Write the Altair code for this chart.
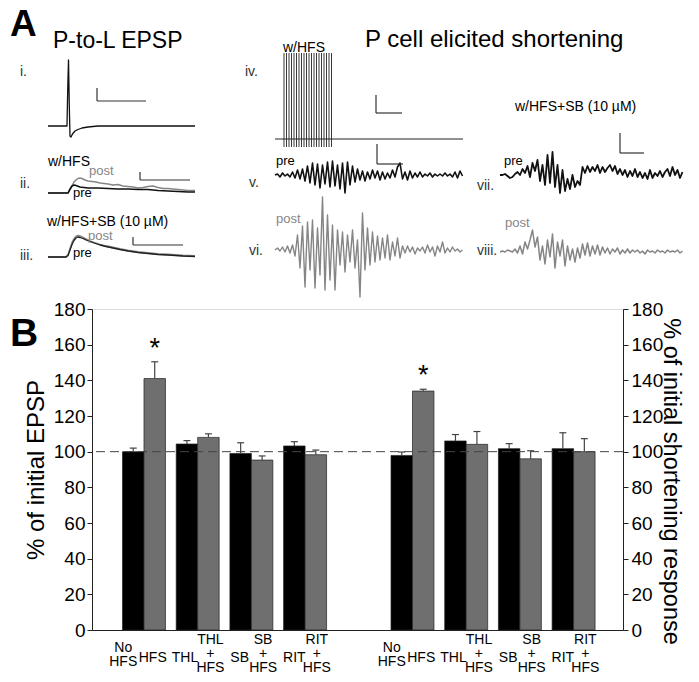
import altair as alt
import pandas as pd

# ---------------- Panel B values ----------------
conditions = ["No\nHFS", "HFS", "THL", "THL\n+\nHFS", "SB", "SB\n+\nHFS", "RIT", "RIT\n+\nHFS"]
epsp_mean = [100.0, 141.0, 104.3, 108.0, 99.0, 95.3, 103.2, 98.3]
epsp_sem = [2.0, 9.4, 1.9, 2.0, 6.0, 2.3, 2.4, 2.6]
short_mean = [97.9, 134.0, 106.0, 104.1, 101.7, 96.0, 101.7, 100.0]
short_sem = [1.9, 1.0, 3.6, 7.2, 2.8, 4.5, 8.9, 7.3]
star_level = [153, 138]
y_ticks = [0, 20, 40, 60, 80, 100, 120, 140, 160, 180]
reference_pct = [100]

# ---------------- Panel A traces (px above baseline) ----------------
tr_i_t = [0, 19, 19.8, 20.5, 21.3, 22, 23, 24.5, 27, 30, 34, 40, 50, 147]
tr_i_v = [0, 0, 40, 66, 20, -10, -11, -8, -5, -3.5, -2, -1, 0, 0]

tr_ii_post_t = [0, 20, 22, 24, 26, 28, 30, 32, 34, 37, 40, 44, 48, 52, 56, 60, 65, 70, 75, 80,
                85, 90, 95, 100, 105, 110, 115, 120, 125, 130, 135, 140, 147]
tr_ii_post_v = [0, 0, 3, 7, 11, 13, 14.5, 15, 14.5, 13, 12, 11.5, 11, 10, 9.5, 9, 8, 8.5, 7, 6.5,
                6, 5, 5.5, 6.5, 7, 5.5, 4.5, 4.5, 4, 3.5, 3, 2.5, 2.5]
tr_ii_pre_t = [0, 20, 22, 24, 26, 28, 32, 36, 40, 50, 60, 70, 80, 90, 100, 110, 120, 130, 140, 147]
tr_ii_pre_v = [0, 0, 4, 7, 8, 7.5, 6, 5.5, 5, 5, 4.5, 4, 4, 3.5, 3.5, 2.5, 2, 1.5, 1, 1]

tr_iii_t = [0, 18, 20, 22, 24, 26, 28, 30, 32, 35, 38, 42, 46, 52, 58, 65, 72, 80, 90, 100, 110, 120, 135, 147]
tr_iii_post_v = [0, 0, 2, 8, 14, 18, 20.5, 21.5, 21, 19.5, 18, 16, 14.5, 12.5, 11, 9.5, 8, 6.5, 5, 4, 3, 2.5, 1.5, 1]
tr_iii_pre_v = [0, 0, 1.5, 7, 12.5, 16.5, 19, 20, 19.5, 18.5, 17, 15.5, 14, 12, 10.5, 9, 7.5, 6, 4.5, 3.5, 2.5, 2, 1, 0.5]

tr_iv_base_t = [0, 188]
tr_iv_base_v = [0, 0]
spike_t = [9, 11.5, 14, 16.5, 19, 21.5, 24, 26.5, 29, 31.5, 34, 36.5, 39, 41.5, 44, 46.5, 49, 51.5, 54, 56.5]
spike_top = [86] * 20
spike_bottom = [-8] * 20

tr_v = [0, 1, -2, 2, -1, 1,
        -2, 3, -3, 5, -4, 6,
        -6, 9, -8, 12, -10, 11, -13, 10,
        -9, 13, -12, 14, -11, 10, -14, 12, -18, 13, -10, 9,
        -7, 6, -5, 4, -6, 3, -4, 5, -3, 4, -5, 3, -4, 2,
        -3, 5, -2, 8, 12, -4,
        3, -5, 4, -3, 2, -2, 3, -2, 1, -1, 2, -2, 1, -1, 1, -1, 2, -1, 1, -2, 3, -3, 4, -1]
tr_vi = [0, 2, -1, 3, -2, 4, -3, 5,
         -6, 15, -18, 24, -37, 28, -20, 30, -38, 22, -25, 53, -40, 35, -30, 25, -40, 20,
         -15, 18, -22, 15, -12, 20, -18, 10, -47, 37, -20, 22, -15, 18, -12, 14, -10, 12,
         -8, 15, -10, 8, -6, 12, -8, 4,
         -3, 4, -2, 3, -4, 2, -1, 3, -3, 5, -2, 3, -6, 4, -2, 8, -3, 2, -2, 3, -1, 1, -2, 0]
tr_vii = [0, 0, 1, -1, -3, -2, 1, 3,
          0, 6, 2, 9, -2, 12, 4, 15,
          -6, 10, -10, 20, -8, 23, -12, 10,
          -18, 5, -16, -4, -14, 0, -12, -6,
          -10, 8, 2, 9, 3, 8, 4, 10,
          2, 8, 3, 7, 10, 4, 9, 1,
          6, 0, 5, -2, 4, -1, 6, -2,
          3, -3, 2, -4, 5, -3, 2, -1,
          4, -2, 3, 6, -1, 8, 0, 5, -3, 3]
tr_viii = [0, 1, 0, 2, 1, 0, 3, -1,
           6, -2, 10, 3, 12, 22, 5, 15,
           -8, 6, -12, 12, -5, 18, -16, 10,
           -4, 12, -14, 6, -8, 3, -10, 4,
           -6, 8, -3, 9, -4, 6, -2, 7,
           -3, 5, -1, 4, -2, 3, 0, 4,
           -2, 2, -1, 3, -1, 2, 0, 2,
           -1, 1, -2, 2, 0, 1, -1, 2,
           0, 1, -1, 2, 0, 1, 0, 2, -1, 1]
noisy_step = 2.5

# ---------------- Layout (page pixels) ----------------
PLOT_X0, PLOT_Y0 = 92, 309
W, H = 531, 321
VIEW_W, VIEW_H = 683, 666
PAD = {"left": PLOT_X0 - 8, "top": PLOT_Y0 - 8,
       "right": VIEW_W - (PLOT_X0 - 8) - W, "bottom": VIEW_H - (PLOT_Y0 - 8) - H}
GROUP_START = [0, 5]
BAR_W = 0.4
CAP = 0.065
X_DOMAIN = [-0.968, 8.92]
PX_PER_UNIT = W / (X_DOMAIN[1] - X_DOMAIN[0])
label_dx_px = [-10, -2, -2, 2, -1, 1, 0, 1]
label_first_line_page_y = {1: 658, 2: 648, 3: 640}

GRAY = "#6f6f6f"
TRACE_GRAY = "#858585"

trace_layout = [
    # name, t, v, x0, baseline, color, width
    ("i", tr_i_t, tr_i_v, 48, 126, "#111", 1.3),
    ("ii_post", tr_ii_post_t, tr_ii_post_v, 48, 193, TRACE_GRAY, 1.5),
    ("ii_pre", tr_ii_pre_t, tr_ii_pre_v, 48, 193, "#111", 1.6),
    ("iii_post", tr_iii_t, tr_iii_post_v, 48, 257, TRACE_GRAY, 1.8),
    ("iii_pre", tr_iii_t, tr_iii_pre_v, 48, 257, "#222", 1.3),
    ("iv_base", tr_iv_base_t, tr_iv_base_v, 275, 139, "#222", 1.0),
    ("v", None, tr_v, 275, 175, "#111", 1.6),
    ("vi", None, tr_vi, 275, 250, TRACE_GRAY, 1.4),
    ("vii", None, tr_vii, 500, 175, "#111", 1.8),
    ("viii", None, tr_viii, 500, 252, TRACE_GRAY, 1.5),
]
spike_layout = (275, 139)

scale_bars = [  # corner (x, y), vertical length, horizontal length
    (97, 101, 13, 49), (140, 180, 8, 50), (133, 245, 8, 50),
    (376, 113, 18, 26), (377, 164, 20, 26), (620, 153, 20, 24),
]

texts = [
    ("P-to-L EPSP", 53, 48, 23, "black"),
    ("P cell elicited shortening", 365, 47, 24, "black"),
    ("w/HFS", 283, 51.5, 14, "black"),
    ("w/HFS", 48, 166, 14, "black"),
    ("w/HFS+SB (10 µM)", 47, 226, 14, "black"),
    ("w/HFS+SB (10 µM)", 515, 111, 14, "black"),
    ("i.", 20, 76, 14, "#333"),
    ("ii.", 20, 188, 14, "#333"),
    ("iii.", 20, 260, 14, "#333"),
    ("iv.", 245, 76, 14, "#333"),
    ("v.", 249, 187, 14, "#333"),
    ("vi.", 249, 255, 14, "#333"),
    ("vii.", 477, 190, 14, "#333"),
    ("viii.", 477, 255, 14, "#333"),
    ("post", 89, 175, 13, TRACE_GRAY),
    ("pre", 73, 196.5, 13, "black"),
    ("post", 88, 239.5, 13, TRACE_GRAY),
    ("pre", 73, 257, 13, "black"),
    ("pre", 276, 165, 13, "black"),
    ("post", 276, 223, 13, TRACE_GRAY),
    ("pre", 504, 165, 13, "black"),
    ("post", 505, 227, 13, TRACE_GRAY),
]
panel_letters = [("A", 10, 36, 37), ("B", 10, 346, 39)]

# ---------------- Build panel B ----------------
rows = []
for means, sems, g0 in [(epsp_mean, epsp_sem, GROUP_START[0]), (short_mean, short_sem, GROUP_START[1])]:
    for i, lab in enumerate(conditions):
        g = g0 + i // 2
        side = i % 2
        xl = g - BAR_W + side * BAR_W
        xc = xl + BAR_W / 2
        nlines = lab.count("\n") + 1
        rows.append(dict(x=xl, x2=xl + BAR_W, xc=xc, cl=xc - CAP, cr=xc + CAP,
                         lx=xc + label_dx_px[i] / PX_PER_UNIT,
                         ly=label_first_line_page_y[nlines] - PLOT_Y0,
                         mean=means[i], top=means[i] + sems[i], zero=0, label=lab,
                         fill="#000000" if side == 0 else GRAY))
bars_df = pd.DataFrame(rows)
stars_df = pd.DataFrame({"xc": [bars_df.xc[1], bars_df.xc[9]], "v": star_level})
ref_df = pd.DataFrame({"v": reference_pct})

xs = alt.Scale(domain=X_DOMAIN, nice=False, zero=False)
ys = alt.Scale(domain=[0, 180], nice=False)
x_axis = alt.Axis(labels=False, ticks=False, title=None, grid=False, domainColor="#222", domainWidth=1)
left_axis = alt.Axis(values=y_ticks, title="% of initial EPSP", grid=False, tickSize=5,
                     labelPadding=2, titlePadding=5, labelFontSize=19, titleFontSize=24,
                     titleFontWeight="normal", domainColor="#222", tickColor="#222",
                     labelColor="black", titleColor="black")
right_axis = alt.Axis(values=y_ticks, orient="right", title="% of initial shortening response",
                      grid=False, tickSize=5, labelPadding=3, titlePadding=-4, labelFontSize=19,
                      titleFontSize=23.5, titleFontWeight="normal", titleAngle=90, titleY=172,
                      domainColor="#222", tickColor="#222", labelColor="black", titleColor="black")

base_b = alt.Chart(bars_df)
bars = base_b.mark_bar(stroke="#222", strokeWidth=0.7).encode(
    x=alt.X("x:Q", scale=xs, axis=x_axis), x2="x2:Q",
    y=alt.Y("mean:Q", scale=ys, axis=left_axis), y2="zero:Q",
    color=alt.Color("fill:N", scale=None))
err = base_b.mark_rule(color="#444", strokeWidth=1.2).encode(
    x=alt.X("xc:Q", scale=xs, axis=x_axis), y=alt.Y("mean:Q", scale=ys, axis=left_axis), y2="top:Q")
caps = base_b.mark_rule(color="#444", strokeWidth=1.2).encode(
    x=alt.X("cl:Q", scale=xs, axis=x_axis), x2="cr:Q", y=alt.Y("top:Q", scale=ys, axis=left_axis))
xlabels = base_b.mark_text(lineBreak="\n", fontSize=14, lineHeight=14, baseline="middle",
                           color="black").encode(
    x=alt.X("lx:Q", scale=xs, axis=x_axis), y=alt.Y("ly:Q", scale=None), text="label:N")
stars = alt.Chart(stars_df).mark_text(text="*", fontSize=27, baseline="alphabetic", color="black").encode(
    x=alt.X("xc:Q", scale=xs, axis=x_axis), y=alt.Y("v:Q", scale=ys, axis=left_axis))
b_main = alt.layer(bars, err, caps, xlabels, stars)

b_right = alt.Chart(ref_df).mark_rule(strokeDash=[9, 5], color="#444", strokeWidth=1).encode(
    y=alt.Y("v:Q", scale=ys, axis=right_axis))

# ---------------- Build panel A ----------------
px_scale = alt.Scale(domain=[8, 8 + VIEW_W], range=[8 - PLOT_X0, 8 + VIEW_W - PLOT_X0], nice=False, zero=False)
py_scale = alt.Scale(domain=[8, 8 + VIEW_H], range=[8 - PLOT_Y0, 8 + VIEW_H - PLOT_Y0], nice=False, zero=False)

trows = []
for name, ts, vs, x0, base, col, sw in trace_layout:
    if ts is None:
        ts = [k * noisy_step for k in range(len(vs))]
    for k, (t, v) in enumerate(zip(ts, vs)):
        trows.append(dict(trace=name, k=k, px=x0 + t, py=base - v, col=col, sw=sw))
traces_df = pd.DataFrame(trows)

spikes_df = pd.DataFrame({"px": [spike_layout[0] + t for t in spike_t],
                          "py1": [spike_layout[1] - v for v in spike_top],
                          "py2": [spike_layout[1] - v for v in spike_bottom]})

sb_rows = []
for (cx, cy, vl, hl) in scale_bars:
    sb_rows.append(dict(x1=cx, x2=cx, y1=cy - vl, y2=cy))
    sb_rows.append(dict(x1=cx, x2=cx + hl, y1=cy, y2=cy))
sb_df = pd.DataFrame(sb_rows)

text_df = pd.DataFrame(texts, columns=["txt", "px", "py", "fs", "col"])
letter_df = pd.DataFrame(panel_letters, columns=["txt", "px", "py", "fs"])

PX = lambda f: alt.X(f, scale=px_scale, axis=None)
PY = lambda f: alt.Y(f, scale=py_scale, axis=None)

a_traces = alt.Chart(traces_df).mark_line(strokeJoin="round").encode(
    x=PX("px:Q"), y=PY("py:Q"), detail="trace:N", order="k:Q",
    color=alt.Color("col:N", scale=None), strokeWidth=alt.StrokeWidth("sw:Q", scale=None))
a_spikes = alt.Chart(spikes_df).mark_rule(color="#222", strokeWidth=0.9).encode(
    x=PX("px:Q"), y=PY("py1:Q"), y2="py2:Q")
a_bars = alt.Chart(sb_df).mark_rule(color="#333", strokeWidth=1.2).encode(
    x=PX("x1:Q"), x2="x2:Q", y=PY("y1:Q"), y2="y2:Q")
a_text = alt.Chart(text_df).mark_text(align="left", baseline="alphabetic").encode(
    x=PX("px:Q"), y=PY("py:Q"), text="txt:N",
    size=alt.Size("fs:Q", scale=None), color=alt.Color("col:N", scale=None))
a_letters = alt.Chart(letter_df).mark_text(align="left", baseline="alphabetic",
                                           fontWeight="bold", color="black").encode(
    x=PX("px:Q"), y=PY("py:Q"), text="txt:N", size=alt.Size("fs:Q", scale=None))
a_layer = alt.layer(a_traces, a_spikes, a_bars, a_text, a_letters)

chart = alt.layer(b_main, b_right, a_layer).resolve_scale(
    x="independent", y="independent", color="independent", size="independent", strokeWidth="independent"
).properties(
    width=W, height=H, autosize=alt.AutoSizeParams(type="none"), padding=PAD
).configure_view(stroke=None).configure(font="Liberation Sans")

chart.save("out.html", embed_options={"renderer": "svg", "actions": False})
